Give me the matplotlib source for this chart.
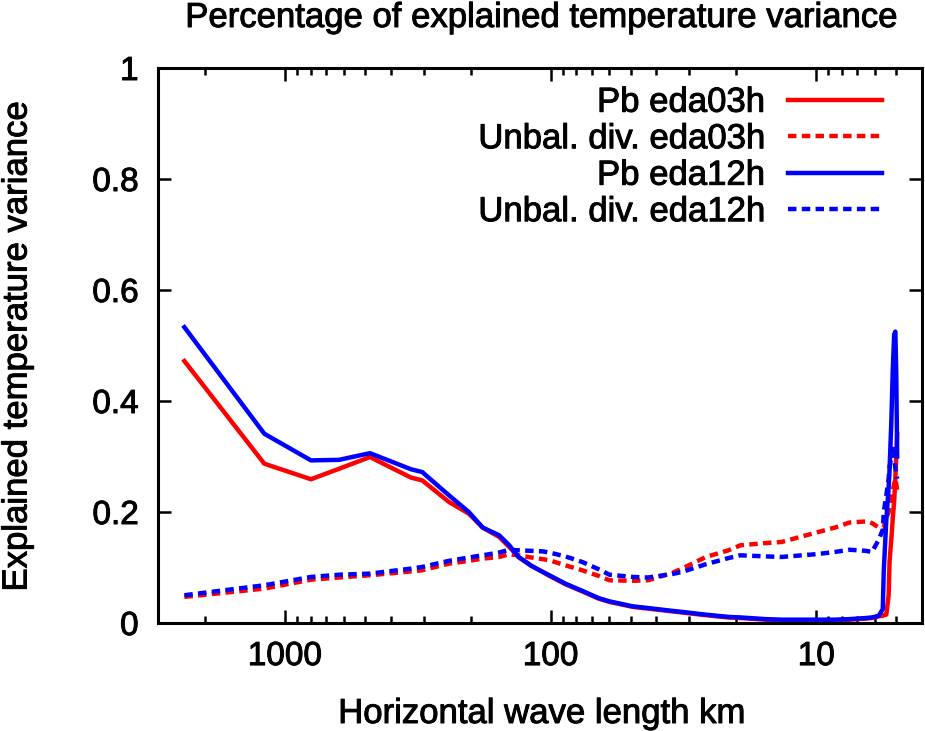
import matplotlib
matplotlib.use("Agg")
import matplotlib.pyplot as plt
import matplotlib.patheffects as pe
from matplotlib.ticker import FixedLocator, FixedFormatter, NullFormatter, LogLocator, FuncFormatter

plt.rcParams['font.family'] = ['Liberation Sans', 'DejaVu Sans']

# horizontal wave length (km), shared by all four curves
wl = [2387, 1194, 797, 624, 478, 335, 304, 241, 203, 180, 156, 143, 132, 118,
      107, 101, 88, 76, 66, 60, 49, 43, 35, 32, 26, 21.4, 19.3, 15.5, 13.5,
      10, 8.5, 7.5, 6.5, 6.17, 5.82, 5.62, 5.57, 5.45, 5.34, 5.30, 5.22, 5.15,
      5.09, 5.04, 5.00, 4.96]

pb_eda03h = [0.472, 0.287, 0.259, 0.278, 0.299, 0.262, 0.257, 0.218, 0.197, 0.172,
             0.155, 0.137, 0.119, 0.103, 0.092, 0.085, 0.070, 0.057, 0.044, 0.038,
             0.029, 0.026, 0.021, 0.019, 0.014, 0.010, 0.009, 0.006, 0.005, 0.005,
             0.005, 0.006, 0.008, 0.009, 0.012, 0.013, 0.014, 0.015, 0.05, 0.11,
             0.15, 0.19, 0.22, 0.26, 0.30, 0.34]

div_eda03h = [0.047, 0.062, 0.078, 0.082, 0.086, 0.093, 0.095, 0.107, 0.112, 0.116,
              0.119, 0.124, 0.122, 0.118, 0.115, 0.113, 0.104, 0.095, 0.085, 0.077,
              0.076, 0.077, 0.090, 0.098, 0.119, 0.131, 0.140, 0.144, 0.146, 0.163,
              0.172, 0.181, 0.183, 0.180, 0.172, 0.170, 0.172, 0.19, 0.20, 0.21,
              0.22, 0.24, 0.25, 0.26, 0.25, 0.24]

pb_eda12h = [0.533, 0.341, 0.293, 0.294, 0.306, 0.277, 0.272, 0.230, 0.200, 0.172,
             0.158, 0.140, 0.119, 0.103, 0.092, 0.086, 0.071, 0.058, 0.045, 0.039,
             0.030, 0.027, 0.022, 0.020, 0.015, 0.011, 0.010, 0.007, 0.006, 0.006,
             0.006, 0.007, 0.009, 0.010, 0.013, 0.025, 0.095, 0.185, 0.245, 0.275,
             0.36, 0.46, 0.52, 0.525, 0.45, 0.30]

div_eda12h = [0.050, 0.068, 0.083, 0.087, 0.089, 0.098, 0.101, 0.112, 0.118, 0.122,
              0.127, 0.132, 0.131, 0.130, 0.129, 0.127, 0.120, 0.110, 0.097, 0.087,
              0.083, 0.082, 0.088, 0.092, 0.106, 0.117, 0.122, 0.120, 0.119, 0.124,
              0.128, 0.132, 0.130, 0.128, 0.150, 0.168, 0.20, 0.23, 0.26, 0.28,
              0.30, 0.32, 0.30, 0.28, 0.27, 0.26]

fig = plt.figure(figsize=(9.25, 7.31), dpi=100)
ax = fig.add_axes([158/925, 1-623/731, 764/925, 555/731])

lw = 3.2
dash = (1.9, 1.2)
ax.plot(wl, pb_eda03h, color='#ff0000', lw=lw, label='Pb eda03h')
ax.plot(wl, div_eda03h, color='#ff0000', lw=lw, dashes=dash, label='Unbal. div. eda03h')
ax.plot(wl, pb_eda12h, color='#0000ff', lw=lw, label='Pb eda12h')
ax.plot(wl, div_eda12h, color='#0000ff', lw=lw, dashes=dash, label='Unbal. div. eda12h')

ax.set_xscale('log')
ax.set_xlim(3000, 4)
ax.set_ylim(0, 1)

ax.xaxis.set_major_locator(FixedLocator([1000, 100, 10]))
ax.xaxis.set_major_formatter(FixedFormatter(['1000', '100', '10']))
ax.xaxis.set_minor_locator(LogLocator(base=10, subs=range(2, 10)))
ax.xaxis.set_minor_formatter(NullFormatter())
ax.set_yticks([0, 0.2, 0.4, 0.6, 0.8, 1])
ax.yaxis.set_major_formatter(FuncFormatter(lambda v, p: f'{v:g}'))

for s in ax.spines.values():
    s.set_linewidth(2.2)
ax.tick_params(which='both', direction='in', top=True, right=True, width=1.8)
ax.tick_params(which='major', length=9.5, labelsize=24)
ax.tick_params(axis='y', which='major', pad=14)
ax.tick_params(axis='x', which='major', pad=13)
ax.tick_params(which='minor', length=5)

# gnuplot text is a bit heavier than plain Liberation Sans
heavy = [pe.withStroke(linewidth=0.7, foreground='black')]

fig.text(542/925, 1-27/731, 'Percentage of explained temperature variance',
         ha='center', va='baseline', fontsize=25, path_effects=heavy)
fig.text(542/925, 1-723/731, 'Horizontal wave length km',
         ha='center', va='baseline', fontsize=25, path_effects=heavy)
fig.text(17/925, 1-346/731, 'Explained temperature variance',
         ha='center', va='center', rotation=90, fontsize=25, path_effects=heavy)

leg = ax.legend(loc='upper right', bbox_to_anchor=(0.9476, 0.968), frameon=False,
                markerfirst=False, fontsize=25, handlelength=2.7, handletextpad=0.66,
                labelspacing=0.1, borderpad=0, borderaxespad=0)
for t in leg.get_texts():
    t.set_path_effects(heavy)
for lab in ax.get_xticklabels() + ax.get_yticklabels():
    lab.set_path_effects(heavy)

fig.savefig('out.png', dpi=100)
